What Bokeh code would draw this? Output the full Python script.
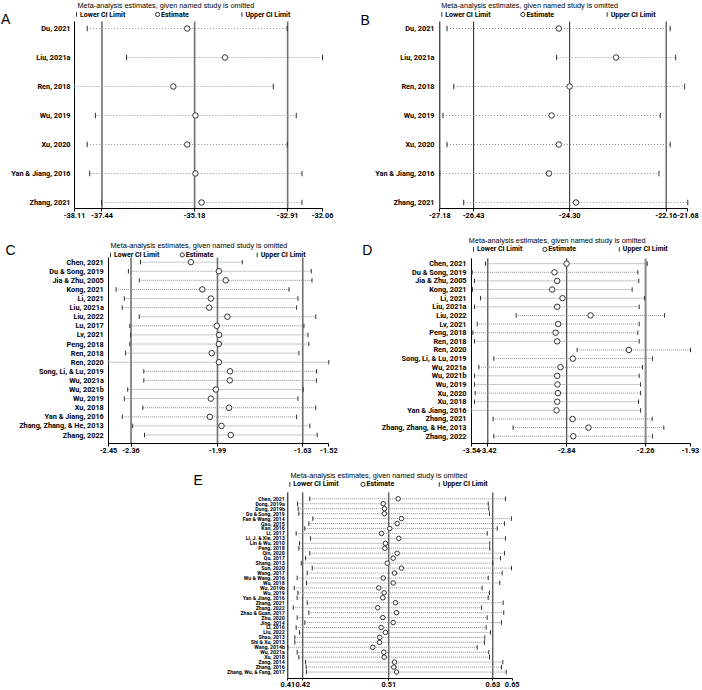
import numpy as np
from bokeh.plotting import figure
from bokeh.models import Range1d, FixedTicker, Spacer
from bokeh.layouts import column, row
from bokeh.core.properties import value
from bokeh.embed import file_html
from bokeh.resources import INLINE

# ---------------- data ----------------
A_studies = ["Du, 2021", "Liu, 2021a", "Ren, 2018", "Wu, 2019", "Xu, 2020",
             "Yan & Jiang, 2016", "Zhang, 2021"]
A_lower = [-37.80, -36.84, -38.11, -37.60, -37.80, -37.74, -37.45]
A_est = [-35.36, -34.44, -35.70, -35.16, -35.36, -35.16, -35.01]
A_upper = [-32.92, -32.06, -33.26, -32.70, -32.92, -32.56, -32.56]
A_edges = [-38.11, -32.06]
A_edge_labels = ["-38.11", "-32.06"]
A_lines = [-37.44, -35.18, -32.91]
A_line_labels = ["-37.44", "-35.18", "-32.91"]

B_studies = A_studies
B_lower = [-27.02, -24.59, -26.87, -27.11, -27.02, -27.18, -26.65]
B_est = [-24.54, -23.27, -24.30, -24.70, -24.54, -24.76, -24.16]
B_upper = [-22.07, -21.95, -21.75, -22.29, -22.07, -22.32, -21.68]
B_edges = [-27.18, -21.68]
B_edge_labels = ["-27.18", "-21.68"]
B_lines = [-26.43, -24.30, -22.16]
B_line_labels = ["-26.43", "-24.30", "-22.16"]

C_studies = ["Chen, 2021", "Du & Song, 2019", "Jia & Zhu, 2005", "Kong, 2021", "Li, 2021",
             "Liu, 2021a", "Liu, 2022", "Lu, 2017", "Lv, 2021", "Peng, 2018", "Ren, 2018",
             "Ren, 2020", "Song, Li, & Lu, 2019", "Wu, 2021a", "Wu, 2021b", "Wu, 2019",
             "Xu, 2018", "Yan & Jiang, 2016", "Zhang, Zhang, & He, 2013", "Zhang, 2022"]
C_lower = [-2.315, -2.366, -2.320, -2.418, -2.383, -2.392, -2.320, -2.360, -2.357, -2.360,
           -2.378, -2.450, -2.301, -2.301, -2.369, -2.383, -2.305, -2.392, -2.348, -2.298]
C_est = [-2.102, -1.984, -1.955, -2.054, -2.018, -2.025, -1.948, -1.993, -1.983, -1.984,
         -2.014, -1.984, -1.937, -1.938, -1.997, -2.018, -1.941, -2.022, -1.973, -1.934]
C_upper = [-1.885, -1.594, -1.591, -1.688, -1.650, -1.656, -1.575, -1.625, -1.608, -1.604,
           -1.646, -1.520, -1.572, -1.572, -1.628, -1.650, -1.575, -1.656, -1.600, -1.569]
C_edges = [-2.45, -1.52]
C_edge_labels = ["-2.45", "-1.52"]
C_lines = [-2.355, -1.99, -1.63]
C_line_labels = ["-2.36", "-1.99", "-1.63"]

D_studies = ["Chen, 2021", "Du & Song, 2019", "Jia & Zhu, 2005", "Kong, 2021", "Li, 2021",
             "Liu, 2021a", "Liu, 2022", "Lv, 2021", "Peng, 2018", "Ren, 2018", "Ren, 2020",
             "Song, Li, & Lu, 2019", "Wu, 2021a", "Wu, 2021b", "Wu, 2019", "Xu, 2020",
             "Xu, 2018", "Yan & Jiang, 2016", "Zhang, 2021", "Zhang, Zhang, & He, 2013",
             "Zhang, 2022"]
D_lower = [-3.437, -3.535, -3.518, -3.533, -3.474, -3.518, -3.212, -3.498, -3.530, -3.518,
           -2.763, -3.376, -3.486, -3.518, -3.518, -3.513, -3.518, -3.540, -3.381, -3.234,
           -3.376]
D_est = [-2.841, -2.930, -2.910, -2.947, -2.871, -2.910, -2.665, -2.903, -2.922, -2.910,
         -2.383, -2.795, -2.886, -2.910, -2.908, -2.905, -2.910, -2.915, -2.797, -2.680,
         -2.792]
D_upper = [-2.248, -2.317, -2.310, -2.359, -2.268, -2.307, -2.121, -2.307, -2.317, -2.307,
           -1.930, -2.209, -2.283, -2.307, -2.297, -2.297, -2.312, -2.297, -2.212, -2.126,
           -2.209]
D_edges = [-3.54, -1.93]
D_edge_labels = ["-3.54", "-1.93"]
D_lines = [-3.42, -2.84, -2.26]
D_line_labels = ["-3.42", "-2.84", "-2.26"]

E_studies = ["Chen, 2021", "Dong, 2019a", "Dong, 2019b", "Du & Song, 2019", "Fan & Wang, 2014",
             "Gao, 2015", "Kan, 2016", "Li, 2017", "Li, J. & Xie, 2013", "Lin & Wu, 2010",
             "Peng, 2018", "Qin, 2020", "Qu, 2017", "Shang, 2013", "Sun, 2020", "Wang, 2017",
             "Wu & Wang, 2016", "Wu, 2018", "Wu, 2019b", "Wu, 2019", "Yan & Jiang, 2016",
             "Zhang, 2021", "Zhang, 2022", "Zhao & Guan, 2017", "Zhu, 2020", "Jing, 2014",
             "Li, 2016", "Liu, 2022", "Shao, 2013", "Shi & Xu, 2013", "Wang, 2014b",
             "Wu, 2021a", "Xu, 2018", "Zeng, 2014", "Zhang, 2016", "Zhang, Wu, & Fang, 2017"]
E_lower = [0.4289, 0.4156, 0.4163, 0.4170, 0.4322, 0.4279, 0.4235, 0.4141, 0.4297, 0.4177,
           0.4170, 0.4289, 0.4243, 0.4196, 0.4316, 0.4261, 0.4152, 0.4253, 0.4120, 0.4160,
           0.4152, 0.4261, 0.4110, 0.4279, 0.4152, 0.4235, 0.4141, 0.4177, 0.4126, 0.4126,
           0.4050, 0.4152, 0.4170, 0.4243, 0.4250, 0.4253]
E_est = [0.5251, 0.5088, 0.5102, 0.5102, 0.5287, 0.5240, 0.5160, 0.5070, 0.5258, 0.5113,
         0.5106, 0.5240, 0.5197, 0.5132, 0.5287, 0.5211, 0.5088, 0.5197, 0.5040, 0.5099,
         0.5084, 0.5222, 0.5029, 0.5233, 0.5084, 0.5197, 0.5066, 0.5113, 0.5051, 0.5048,
         0.4975, 0.5095, 0.5099, 0.5211, 0.5203, 0.5233]
E_upper = [0.6419, 0.6231, 0.6237, 0.6245, 0.6484, 0.6408, 0.6329, 0.6220, 0.6419, 0.6248,
           0.6248, 0.6408, 0.6365, 0.6281, 0.6484, 0.6383, 0.6231, 0.6357, 0.6165, 0.6245,
           0.6231, 0.6394, 0.6158, 0.6400, 0.6220, 0.6375, 0.6209, 0.6256, 0.6194, 0.6190,
           0.6111, 0.6237, 0.6245, 0.6390, 0.6375, 0.6427]
E_edges = [0.405, 0.6492]
E_edge_labels = ["0.41", "0.65"]
E_lines = [0.4213, 0.5149, 0.6281]
E_line_labels = ["0.42", "0.51", "0.63"]

TITLE_TEXT = "Meta-analysis estimates, given named study is omitted"
LEGEND_TEXT = ["Lower CI Limit", "Estimate", "Upper CI Limit"]

# ---------------- layout (pixel geometry of the page) ----------------
FONT = "Liberation Sans"
BFONT = "Roboto"


def fs(px):
    return f"{px:.2f}px"


GEO = {
    "A": dict(left=0, right=350, top=0, frame_bottom=208, border=26, ax0=74, ax1=322,
              row1=28, sp=29, plot_top=21, label_right=70, title_x=77, title_y=5,
              legend_y=14, letter=(0.5, 18.3), label_fs=7.3, tick_out=3),
    "B": dict(left=350, right=702, top=0, frame_bottom=208, border=26, ax0=439.3, ax1=687.3,
              row1=28, sp=29, plot_top=21, label_right=434, title_x=440.7, title_y=5,
              legend_y=14, letter=(360, 19), label_fs=7.3, tick_out=3),
    "C": dict(left=0, right=350, top=234, frame_bottom=443.5, border=21.5, ax0=108, ax1=328.3,
              row1=261.7, sp=9.12, plot_top=257, label_right=103.3, title_x=110, title_y=245.5,
              legend_y=254.5, letter=(5, 249.5), label_fs=7.3, tick_out=3),
    "D": dict(left=350, right=702, top=234, frame_bottom=444, border=21, ax0=471, ax1=690,
              row1=263.3, sp=8.67, plot_top=258, label_right=466, title_x=468.3, title_y=240,
              legend_y=249, letter=(361.7, 250), label_fs=7.3, tick_out=3),
    "E": dict(left=180, right=560, top=465, frame_bottom=679.3, border=9.7, ax0=287.3, ax1=511.7,
              row1=498.5, sp=4.98, plot_top=492, label_right=284.3, title_x=290, title_y=475,
              legend_y=484, letter=(193, 480), label_fs=5.2, tick_out=2),
}

STYLE = {
    "A": dict(ref_colors=["#707070"] * 3, ref_widths=[1.6] * 3, dash="1 2", circ=5.5, tick=5.5),
    "B": dict(ref_colors=["#222222"] * 3, ref_widths=[1.0] * 3, dash="1 2", circ=5.5, tick=5.5),
    "C": dict(ref_colors=["#707070"] * 3, ref_widths=[1.6] * 3, dash="1 1", circ=5.5, tick=4.5),
    "D": dict(ref_colors=["#222222", "#222222", "#8a8a8a"], ref_widths=[1.0, 1.0, 2.0],
              dash="1 1", circ=5.5, tick=4.5),
    "E": dict(ref_colors=["#222222"] * 3, ref_widths=[1.0] * 3, dash="1 1", circ=4.5, tick=4.5),
}


def build(letter, studies, lower, est, upper, edges, edge_labels, lines, line_labels):
    g = GEO[letter]
    st = STYLE[letter]
    vmin, vmax = edges
    k = (g["ax1"] - g["ax0"]) / (vmax - vmin)

    def xv(X):
        return vmin + (X - g["ax0"]) / k

    def yv(Y):
        return 1 + (Y - g["row1"]) / g["sp"]

    fig_h = g["frame_bottom"] - g["top"] + g["border"]
    p = figure(width=round(g["right"] - g["left"]), height=round(fig_h),
               x_range=Range1d(xv(g["left"]), xv(g["right"])),
               y_range=Range1d(yv(g["frame_bottom"]), yv(g["top"])),
               output_backend="svg", toolbar_location=None,
               x_axis_location="below", y_axis_location=None,
               min_border_left=0, min_border_right=0, min_border_top=0,
               min_border_bottom=round(g["border"]))
    p.outline_line_color = None
    p.grid.visible = False
    p.background_fill_color = "white"
    p.border_fill_color = "white"

    n = len(studies)
    rows = list(range(1, n + 1))
    ytop = yv(g["plot_top"])
    ybot = yv(g["frame_bottom"])

    # overall estimate and its CI, plus the left axis line
    p.segment(x0=lines, x1=lines, y0=[ytop] * 3, y1=[ybot] * 3,
              line_color=st["ref_colors"], line_width=st["ref_widths"])
    p.segment(x0=[vmin], x1=[vmin], y0=[ytop], y1=[ybot], line_color="black", line_width=1)

    # leave-one-out intervals
    p.segment(x0=lower, y0=rows, x1=upper, y1=rows, line_color="#8f8f8f",
              line_width=1, line_dash=st["dash"])
    p.scatter(x=lower, y=rows, marker="dash", angle=np.pi / 2, size=st["tick"],
              line_color="#333333", line_width=1)
    p.scatter(x=upper, y=rows, marker="dash", angle=np.pi / 2, size=st["tick"],
              line_color="#333333", line_width=1)
    p.scatter(x=est, y=rows, marker="circle", size=st["circ"], fill_color="white",
              line_color="#333333", line_width=1)

    # study labels
    p.text(x=[xv(g["label_right"])] * n, y=rows, text=studies, text_align="right",
           text_baseline="middle", text_font=value(BFONT), text_font_style="bold",
           text_font_size=fs(g["label_fs"]), text_color="black")

    # title + legend
    p.text(x=[xv(g["title_x"])], y=[yv(g["title_y"])], text=[TITLE_TEXT], text_align="left",
           text_baseline="middle", text_font=value(FONT), text_font_size=fs(7.3),
           text_color="black")
    w = g["ax1"] - g["ax0"]
    lx = [g["ax0"] + 2, g["ax0"] + 0.335 * w, g["ax0"] + 0.675 * w]
    ly = yv(g["legend_y"])
    p.scatter(x=[xv(lx[0]), xv(lx[2])], y=[ly, ly], marker="dash", angle=np.pi / 2,
              size=4.5, line_color="#333333", line_width=1)
    p.scatter(x=[xv(lx[1])], y=[ly], marker="circle", size=4.2, fill_color="white",
              line_color="#333333", line_width=1)
    p.text(x=[xv(X + 3.5) for X in lx], y=[ly] * 3, text=LEGEND_TEXT, text_align="left",
           text_baseline="middle", text_font=value(BFONT), text_font_style="bold",
           text_font_size=fs(7.0), text_color="black")

    # panel letter
    p.text(x=[xv(g["letter"][0])], y=[yv(g["letter"][1])], text=[letter], text_align="left",
           text_baseline="alphabetic", text_font=value(FONT), text_font_size=fs(14),
           text_color="black")

    # x axis
    ticks = [vmin] + list(lines) + [vmax]
    labels = [edge_labels[0]] + list(line_labels) + [edge_labels[1]]
    ax = p.xaxis[0]
    ax.ticker = FixedTicker(ticks=ticks, minor_ticks=[])
    ax.major_label_overrides = {float(t): lab for t, lab in zip(ticks, labels)}
    eps = (vmax - vmin) * 1e-6
    ax.bounds = (vmin - eps, vmax + eps)
    ax.axis_line_color = "black"
    ax.axis_line_width = 1
    ax.major_tick_out = g["tick_out"]
    ax.major_tick_in = 0
    ax.minor_tick_out = 0
    ax.minor_tick_in = 0
    ax.major_tick_line_color = "black"
    ax.major_label_standoff = 1
    ax.major_label_text_font = BFONT
    ax.major_label_text_font_style = "bold"
    ax.major_label_text_font_size = fs(7.3)
    ax.major_label_text_color = "black"
    return p


pA = build("A", A_studies, A_lower, A_est, A_upper, A_edges, A_edge_labels, A_lines, A_line_labels)
pB = build("B", B_studies, B_lower, B_est, B_upper, B_edges, B_edge_labels, B_lines, B_line_labels)
pC = build("C", C_studies, C_lower, C_est, C_upper, C_edges, C_edge_labels, C_lines, C_line_labels)
pD = build("D", D_studies, D_lower, D_est, D_upper, D_edges, D_edge_labels, D_lines, D_line_labels)
pE = build("E", E_studies, E_lower, E_est, E_upper, E_edges, E_edge_labels, E_lines, E_line_labels)

layout = column(row(pA, pB), row(pC, pD),
                row(Spacer(width=round(GEO["E"]["left"]), height=10), pE))

open("out.html", "w").write(file_html(layout, INLINE))
